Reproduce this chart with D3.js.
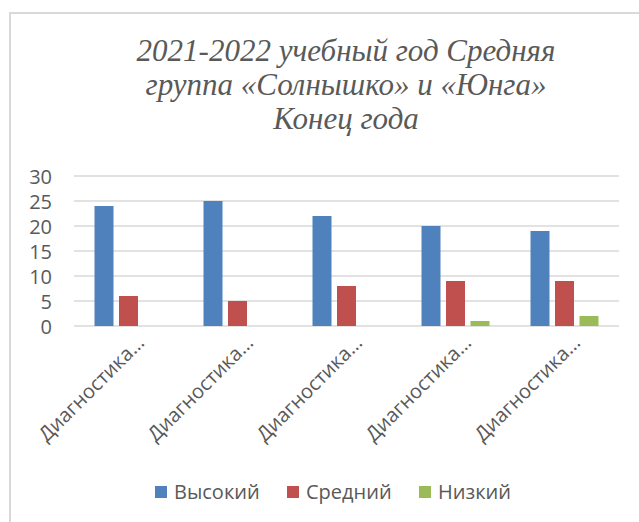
<!DOCTYPE html>
<html>
<head>
<meta charset="utf-8">
<script src="https://cdn.jsdelivr.net/npm/d3@7"></script>
<style>
  body { margin: 0; background: #fff; }
  svg { display: block; }
</style>
</head>
<body>
<svg></svg>
<script>
const categories = ["Диагностика 1", "Диагностика 2", "Диагностика 3", "Диагностика 4", "Диагностика 5"];
const seriesNames = ["Высокий", "Средний", "Низкий"];
const highValues = [24, 25, 22, 20, 19];
const midValues = [6, 5, 8, 9, 9];
const lowValues = [0, 0, 0, 1, 2];
const yTicks = [0, 5, 10, 15, 20, 25, 30];
const titleLines = ["2021-2022 учебный год Средняя", "группа «Солнышко» и «Юнга»", "Конец года"];

const colors = ["#4f81bd", "#c0504d", "#9bbb59"];
const seriesValues = [highValues, midValues, lowValues];

const width = 639, height = 522;
const plot = { left: 74, right: 619, top: 176, bottom: 326 };

const svg = d3.select("svg").attr("width", width).attr("height", height);

// outer chart frame (only top and left edges visible in the crop)
svg.append("rect")
  .attr("x", 10).attr("y", 13)
  .attr("width", 700).attr("height", 600)
  .attr("fill", "none")
  .attr("stroke", "#d9d9d9")
  .attr("stroke-width", 2);

// title
svg.append("text")
  .style("font-family", "'Times New Roman', Times, 'Liberation Serif', 'DejaVu Serif', serif")
  .style("font-style", "italic")
  .attr("text-anchor", "middle")
  .attr("font-size", 31)
  .attr("fill", "#595959")
  .selectAll("tspan")
  .data(titleLines)
  .enter()
  .append("tspan")
  .attr("x", 346)
  .attr("y", function (d, i) { return 61 + i * 34; })
  .text(function (d) { return d; });

const x0 = d3.scaleBand().domain(categories).range([plot.left, plot.right]);

const x1 = d3.scaleBand()
  .domain(seriesNames)
  .range([0, 68])
  .paddingInner(0.2245);

const y = d3.scaleLinear().domain([0, 30]).range([plot.bottom, plot.top]);

// gridlines
svg.append("g")
  .selectAll("line")
  .data(yTicks)
  .enter()
  .append("line")
  .attr("x1", plot.left).attr("x2", plot.right)
  .attr("y1", function (d) { return y(d); })
  .attr("y2", function (d) { return y(d); })
  .attr("stroke", "#d9d9d9")
  .attr("stroke-width", 1.5);

// y axis labels
const yAxis = d3.axisLeft(y).tickValues(yTicks).tickSize(0).tickPadding(0);
const yg = svg.append("g")
  .attr("transform", "translate(52,0)")
  .call(yAxis);
yg.select(".domain").remove();
yg.selectAll("text")
  .attr("font-family", "'Open Sans', sans-serif")
  .attr("font-size", 20)
  .attr("fill", "#595959")
  .attr("dy", "0.36em");

// bars
const groupOffset = (x0.bandwidth() - 68) / 2;
const groups = svg.selectAll(".cat")
  .data(categories)
  .enter()
  .append("g")
  .attr("class", "cat")
  .attr("transform", function (d) { return "translate(" + (x0(d) + groupOffset) + ",0)"; });

groups.selectAll("rect")
  .data(function (d, ci) {
    return seriesNames.map(function (s, si) {
      return { series: s, value: seriesValues[si][ci], color: colors[si] };
    });
  })
  .enter()
  .append("rect")
  .attr("x", function (d) { return x1(d.series); })
  .attr("width", x1.bandwidth())
  .attr("y", function (d) { return y(d.value); })
  .attr("height", function (d) { return y(0) - y(d.value); })
  .attr("fill", function (d) { return d.color; });

// x axis
const xAxis = d3.axisBottom(x0).tickSize(0).tickFormat(function () { return "Диагностика…"; });
const xg = svg.append("g")
  .attr("transform", "translate(0," + plot.bottom + ")")
  .call(xAxis);
xg.select(".domain").remove();
xg.selectAll("text")
  .attr("font-family", "'Open Sans', sans-serif")
  .attr("font-size", 20)
  .attr("fill", "#595959")
  .attr("text-anchor", "end")
  .attr("y", 0)
  .attr("dy", 0)
  .attr("transform", "translate(17,18) rotate(-45)");

// legend
const legendX = [155, 287, 419];
const legend = svg.append("g").attr("font-family", "'Open Sans', sans-serif");
const item = legend.selectAll("g")
  .data(seriesNames)
  .enter()
  .append("g")
  .attr("transform", function (d, i) { return "translate(" + legendX[i] + ",486)"; });
item.append("rect")
  .attr("width", 12).attr("height", 12)
  .attr("fill", function (d, i) { return colors[i]; });
item.append("text")
  .attr("x", 19).attr("y", 13)
  .attr("font-size", 20)
  .attr("fill", "#595959")
  .text(function (d) { return d; });
</script>
</body>
</html>
